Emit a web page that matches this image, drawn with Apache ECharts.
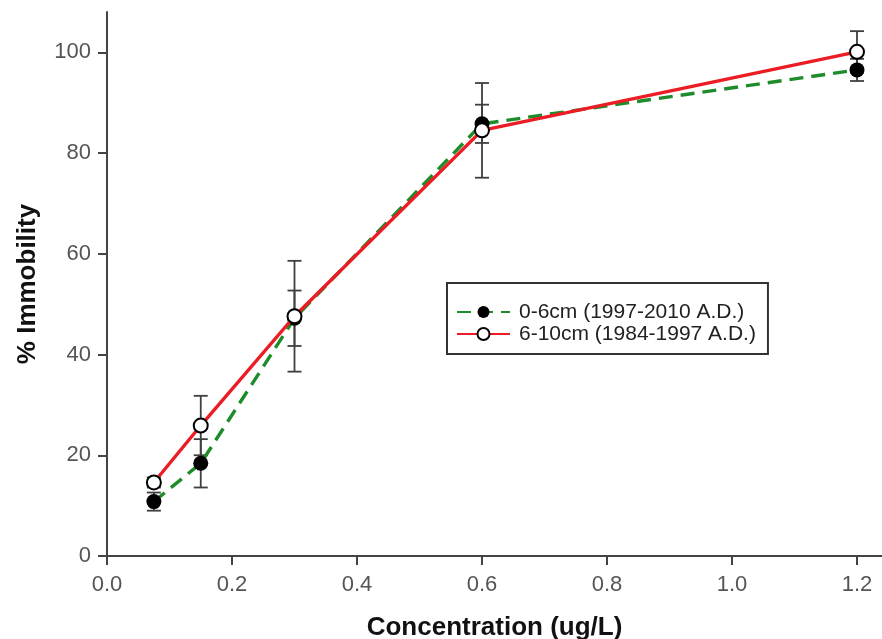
<!DOCTYPE html>
<html>
<head>
<meta charset="utf-8">
<script src="https://cdn.jsdelivr.net/npm/echarts@6/dist/echarts.min.js"></script>
<style>
html,body{margin:0;padding:0;background:#fff;}
#chart{width:882px;height:639px;}
</style>
</head>
<body>
<div id="chart"></div>
<script>
// ---- data ----
const concentrations = [0.075, 0.15, 0.3, 0.6, 1.2];
const shallowName = '0-6cm (1997-2010 A.D.)';
const shallowValues = [10.8, 18.4, 47.2, 85.8, 96.5];
const shallowErrors = [1.8, 4.8, 5.5, 3.8, 2.2];
const deepName = '6-10cm (1984-1997 A.D.)';
const deepValues = [14.6, 25.9, 47.6, 84.5, 100.1];
const deepErrors = [1.0, 5.9, 11.0, 9.4, 4.1];
const xTicks = [0, 0.2, 0.4, 0.6, 0.8, 1.0, 1.2];
const yTicks = [0, 20, 40, 60, 80, 100];
const xTitle = 'Concentration (ug/L)';
const yTitle = '% Immobility';

const FONT = '"Liberation Sans", Arial, sans-serif';

function pairs(xs, ys) { return xs.map((x, i) => [x, ys[i]]); }
function bars(xs, ys, es) { return xs.map((x, i) => [x, ys[i] - es[i], ys[i] + es[i]]); }

function errorBar(params, api) {
  const x = api.value(0);
  const lo = api.coord([x, api.value(1)]);
  const hi = api.coord([x, api.value(2)]);
  const w = 7;
  const style = { stroke: '#3f3f3f', lineWidth: 1.8 };
  return {
    type: 'group',
    children: [
      { type: 'line', shape: { x1: lo[0], y1: lo[1], x2: hi[0], y2: hi[1] }, style },
      { type: 'line', shape: { x1: lo[0] - w, y1: lo[1], x2: lo[0] + w, y2: lo[1] }, style },
      { type: 'line', shape: { x1: hi[0] - w, y1: hi[1], x2: hi[0] + w, y2: hi[1] }, style }
    ]
  };
}

const chart = echarts.init(document.getElementById('chart'), null, { renderer: 'canvas' });
chart.setOption({
  animation: false,
  backgroundColor: '#fff',
  grid: { left: 107, right: 0, top: 12, bottom: 83, containLabel: false, outerBoundsMode: 'none' },
  legend: {
    orient: 'vertical',
    left: 447, top: 283,
    padding: [18, 12, 9, 9],
    itemGap: 0,
    itemWidth: 53, itemHeight: 15,
    borderColor: '#333', borderWidth: 2,
    backgroundColor: '#fff',
    textStyle: { fontFamily: FONT, fontSize: 21, color: '#222', lineHeight: 22, padding: [0, 0, 0, 4] },
    data: [shallowName, deepName]
  },
  xAxis: {
    type: 'value', min: 0, max: 1.24, interval: 0.2,
    name: xTitle, nameLocation: 'middle', nameGap: 59,
    nameTextStyle: { fontFamily: FONT, fontSize: 26, fontWeight: 'bold', color: '#111' },
    axisLine: { lineStyle: { color: '#444', width: 2 } },
    axisTick: { show: true, inside: false, length: 9, lineStyle: { color: '#444', width: 2 }, customValues: xTicks },
    axisLabel: { fontFamily: FONT, fontSize: 22, color: '#555', margin: 18, customValues: xTicks,
      formatter: v => Number(v).toFixed(1) },
    splitLine: { show: false }
  },
  yAxis: {
    type: 'value', min: 0, max: 108, interval: 20,
    name: yTitle, nameLocation: 'middle', nameGap: 66, nameRotate: 90,
    nameTextStyle: { fontFamily: FONT, fontSize: 26, fontWeight: 'bold', color: '#111' },
    axisLine: { show: true, lineStyle: { color: '#444', width: 2 } },
    axisTick: { show: true, inside: false, length: 9, lineStyle: { color: '#444', width: 2 }, customValues: yTicks },
    axisLabel: { fontFamily: FONT, fontSize: 22, color: '#555', margin: 16, customValues: yTicks },
    splitLine: { show: false }
  },
  series: [
    {
      type: 'custom', name: 'err-shallow', renderItem: errorBar, clip: false, z: 1,
      encode: { x: 0, y: [1, 2] }, silent: true,
      data: bars(concentrations, shallowValues, shallowErrors)
    },
    {
      type: 'custom', name: 'err-deep', renderItem: errorBar, clip: false, z: 1,
      encode: { x: 0, y: [1, 2] }, silent: true,
      data: bars(concentrations, deepValues, deepErrors)
    },
    {
      type: 'line', name: shallowName, z: 3,
      data: pairs(concentrations, shallowValues),
      symbol: 'circle', symbolSize: 15,
      lineStyle: { color: '#1e8c2a', width: 3.4, type: [14, 8] },
      itemStyle: { color: '#000', borderWidth: 0 }
    },
    {
      type: 'line', name: deepName, z: 4,
      data: pairs(concentrations, deepValues),
      symbol: 'circle', symbolSize: 14,
      lineStyle: { color: '#ec1c24', width: 3.4 },
      itemStyle: { color: '#fff', borderColor: '#000', borderWidth: 2 }
    }
  ]
});
</script>
</body>
</html>
